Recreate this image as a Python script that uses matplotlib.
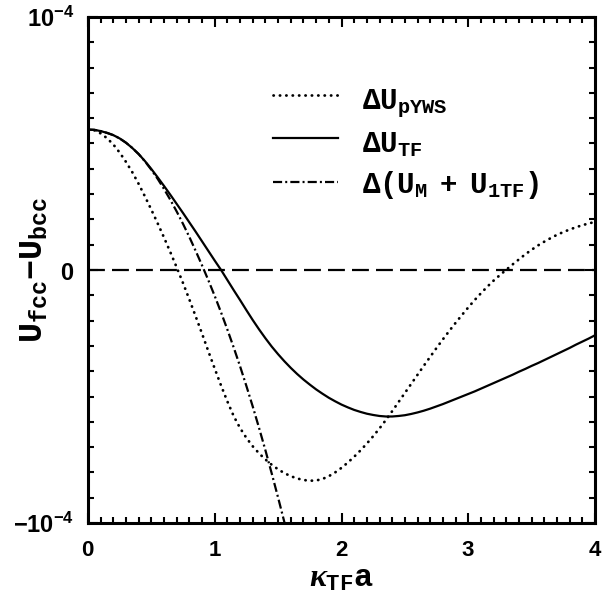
import numpy as np
import matplotlib
matplotlib.use("Agg")
import matplotlib.pyplot as plt
from matplotlib.ticker import MultipleLocator

plt.rcParams['mathtext.fontset'] = 'custom'
plt.rcParams['mathtext.rm'] = 'Liberation Mono:bold'
plt.rcParams['mathtext.bf'] = 'Liberation Sans:bold'
plt.rcParams['mathtext.it'] = 'Liberation Serif:bold:italic'

# x grid (kappa_TF * a), step 0.05
x_main = [round(0.05 * i, 2) for i in range(81)]

# Delta U_TF (units of 1e-5)
u_tf = [5.55, 5.54, 5.49, 5.42, 5.33, 5.20, 5.03, 4.82, 4.58, 4.30,
        3.99, 3.66, 3.32, 2.97, 2.61, 2.25, 1.88, 1.51, 1.13, 0.75,
        0.37, 0.00, -0.40, -0.80, -1.19, -1.59, -1.98, -2.35, -2.70, -3.03,
        -3.33, -3.61, -3.87, -4.11, -4.33, -4.53, -4.72, -4.89, -5.05, -5.19,
        -5.32, -5.43, -5.53, -5.61, -5.68, -5.73, -5.77, -5.79, -5.79, -5.77,
        -5.74, -5.69, -5.63, -5.56, -5.48, -5.39, -5.30, -5.20, -5.10, -5.00,
        -4.90, -4.80, -4.69, -4.58, -4.47, -4.36, -4.25, -4.14, -4.02, -3.91,
        -3.79, -3.68, -3.56, -3.44, -3.32, -3.20, -3.08, -2.95, -2.83, -2.71,
        -2.58]

# Delta U_pYWS (units of 1e-5)
u_pyws = [5.55, 5.52, 5.40, 5.21, 4.96, 4.64, 4.27, 3.86, 3.40, 2.90,
          2.38, 1.84, 1.28, 0.70, 0.10, -0.52, -1.17, -1.84, -2.52, -3.22,
          -3.90, -4.57, -5.20, -5.78, -6.25, -6.64, -6.97, -7.25, -7.49, -7.70,
          -7.88, -8.03, -8.15, -8.24, -8.30, -8.33, -8.32, -8.26, -8.15, -8.00,
          -7.82, -7.61, -7.38, -7.13, -6.86, -6.57, -6.26, -5.93, -5.58, -5.22,
          -4.86, -4.50, -4.14, -3.78, -3.43, -3.08, -2.74, -2.41, -2.09, -1.78,
          -1.48, -1.19, -0.92, -0.66, -0.42, -0.20, 0.01, 0.22, 0.42, 0.62,
          0.80, 0.97, 1.12, 1.26, 1.39, 1.50, 1.60, 1.69, 1.77, 1.84,
          1.90]

# Delta(U_M + U_1TF) (units of 1e-5)
x_m1 = [round(0.05 * i, 2) for i in range(33)]
u_m1 = [5.55, 5.54, 5.49, 5.42, 5.33, 5.20, 5.03, 4.82, 4.58, 4.29,
        3.96, 3.60, 3.20, 2.77, 2.31, 1.82, 1.30, 0.75, 0.18, -0.41,
        -1.03, -1.68, -2.36, -3.07, -3.81, -4.59, -5.40, -6.25, -7.13, -8.05,
        -9.00, -9.98, -11.0]

scale = 1e-5

fig = plt.figure(figsize=(6.1, 5.97), dpi=100)
ax = fig.add_axes([88/610, 1-523/597, 507/610, 506/597])

lw = 1.6
dot_style = dict(lw=2.0, dashes=(0.1, 2.2), dash_capstyle='round')
dd_style = dict(lw=lw, dashes=(4.1, 1.4, 0.9, 1.4))

ax.plot(x_main, np.array(u_pyws)*scale, color='black', **dot_style)
ax.plot(x_main, np.array(u_tf)*scale, color='black', lw=lw)
ax.plot(x_m1, np.array(u_m1)*scale, color='black', **dd_style)
ax.axhline(0, color='black', lw=lw, dashes=(7.6, 3.2))

ax.set_xlim(0, 4)
ax.set_ylim(-1e-4, 1e-4)

ax.set_xticks([0, 1, 2, 3, 4])
ax.set_xticklabels([r'$\mathbf{0}$', r'$\mathbf{1}$', r'$\mathbf{2}$',
                    r'$\mathbf{3}$', r'$\mathbf{4}$'], fontsize=16)
ax.set_yticks([-1e-4, 0, 1e-4])
ax.set_yticklabels([r'$\mathbf{-10^{-4}}$', r'$\mathbf{0}$', r'$\mathbf{10^{-4}}$'],
                   fontsize=17)
ax.xaxis.set_minor_locator(MultipleLocator(0.1))
ax.yaxis.set_minor_locator(MultipleLocator(1e-5))
ax.tick_params(which='both', direction='in', top=True, right=True, width=1.5)
ax.tick_params(which='major', length=7)
ax.tick_params(which='minor', length=4)
ax.tick_params(axis='x', which='major', pad=12)
ax.tick_params(axis='y', which='major', pad=10)
for s in ax.spines.values():
    s.set_linewidth(2.2)

ax.set_ylabel(r'$\mathrm{U_{fcc}{-}U_{bcc}}$', fontsize=24)
ax.yaxis.label.set_va('center')
ax.yaxis.set_label_coords(-0.108, 0.5)
ax.set_xlabel(r'$\kappa_{\rm TF}\mathrm{a}$', fontsize=23)
ax.xaxis.label.set_va('center')
ax.xaxis.set_label_coords(0.5, -0.108)

# legend drawn manually
x0, x1, xt = 0.365, 0.493, 0.540
rows = [(0.846, 0.818, dot_style, r'$\Delta\mathrm{U_{pYWS}}$'),
        (0.761, 0.733, dict(lw=lw), r'$\Delta\mathrm{U_{TF}}$'),
        (0.674, 0.652, dd_style, r'$\Delta\mathrm{(U_{M}\ +\ U_{1TF})}$')]
for yl, yb, kw, lab in rows:
    ax.plot([x0, x1], [yl, yl], transform=ax.transAxes, color='black', **kw)
    ax.text(xt, yb, lab, transform=ax.transAxes, fontsize=21,
            va='baseline', ha='left')

fig.savefig('out.png', dpi=100)
